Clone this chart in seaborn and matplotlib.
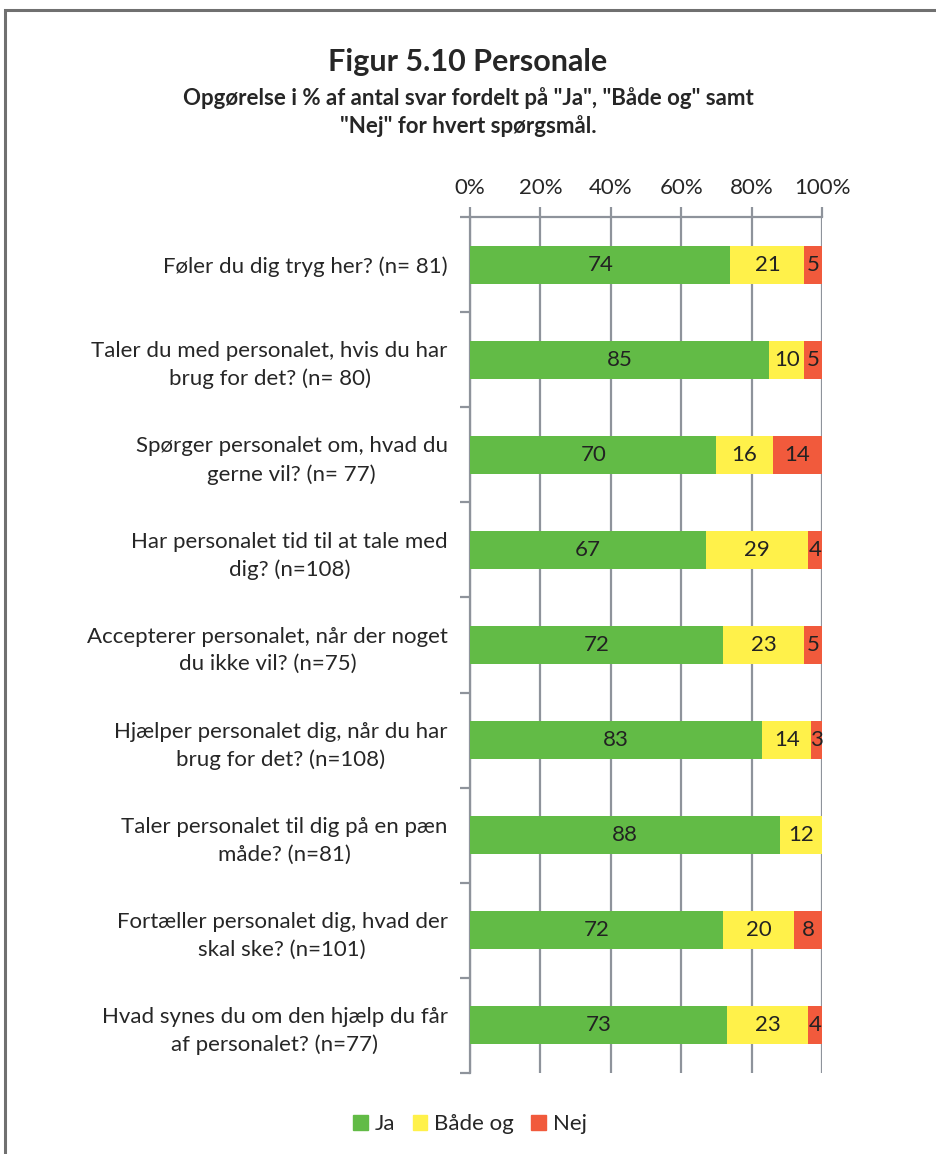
import matplotlib
matplotlib.use("Agg")
import matplotlib.pyplot as plt
import seaborn as sns
import pandas as pd
import numpy as np
from matplotlib.patches import Rectangle

questions = [
    "Føler du dig tryg her? (n= 81)",
    "Taler du med personalet, hvis du har\nbrug for det? (n= 80)",
    "Spørger personalet om, hvad du\ngerne vil? (n= 77)",
    "Har personalet tid til at tale med\ndig? (n=108)",
    "Accepterer personalet, når der noget\ndu ikke vil? (n=75)",
    "Hjælper personalet dig, når du har\nbrug for det? (n=108)",
    "Taler personalet til dig på en pæn\nmåde? (n=81)",
    "Fortæller personalet dig, hvad der\nskal ske? (n=101)",
    "Hvad synes du om den hjælp du får\naf personalet? (n=77)",
]
ja = [74, 85, 70, 67, 72, 83, 88, 72, 73]
baade = [21, 10, 16, 29, 23, 14, 12, 20, 23]
nej = [5, 5, 14, 4, 5, 3, 0, 8, 4]
series_names = ["Ja", "Både og", "Nej"]
colors = ["#62BB46", "#FFF14A", "#F15A3C"]
xticks = [0, 20, 40, 60, 80, 100]
xticklabels = ["0%", "20%", "40%", "60%", "80%", "100%"]

sns.set_style("white")
plt.rcParams["font.family"] = ["Lato", "DejaVu Sans"]

df = pd.DataFrame({"q": questions, "Ja": ja, "Både og": baade, "Nej": nej})
df["c1"] = df["Ja"]
df["c2"] = df["Ja"] + df["Både og"]
df["c3"] = df["c2"] + df["Nej"]

fig = plt.figure(figsize=(9.36, 11.54), dpi=100)
ax = fig.add_axes([470/936, 1-1073/1154, 352/936, (1073-217)/1154])

grid_c = "#8E939B"
for xv in xticks:
    ax.axvline(xv, color=grid_c, lw=1.6, zorder=0)

for col, c in zip(["c3", "c2", "c1"], colors[::-1]):
    sns.barplot(data=df, y="q", x=col, orient="h", color=c, width=0.4,
                saturation=1, ax=ax, zorder=2, edgecolor="none")

for i, row in df.iterrows():
    starts = [0, row["c1"], row["c2"]]
    for s, v in zip(starts, [row["Ja"], row["Både og"], row["Nej"]]):
        if v > 0:
            ax.text(s + v/2, i, f"{v}", ha="center", va="center",
                    fontsize=16, color="#222222", zorder=5)

ax.set_xlim(0, 100)
ax.set_ylim(len(questions) - 0.5, -0.5)
ax.set_xlabel("")
ax.set_ylabel("")
ax.xaxis.tick_top()
ax.set_xticks(xticks)
ax.set_xticklabels(xticklabels, fontsize=16)
ax.tick_params(axis="x", top=True, length=7, color=grid_c, width=1.6, pad=7)
ax.set_yticks(range(len(questions)))
ax.set_yticklabels(questions, fontsize=16, ha="right", multialignment="center",
                   linespacing=1.45)
ax.tick_params(axis="y", which="major", left=False, length=0, pad=16)
ax.set_yticks(np.arange(-0.5, len(questions), 1), minor=True)
ax.tick_params(axis="y", which="minor", left=True, length=7, color=grid_c, width=1.6)
for side in ["bottom", "right"]:
    ax.spines[side].set_visible(False)
for side in ["left", "top"]:
    ax.spines[side].set_color(grid_c)
    ax.spines[side].set_linewidth(1.6)
ax.spines["left"].set_zorder(1)

handles = [Rectangle((0, 0), 1, 1, color=c) for c in colors]
fig.legend(handles, series_names, loc="center", bbox_to_anchor=(470/936, 1-1124/1154),
           ncol=3, frameon=False, fontsize=16, handlelength=0.65, handleheight=0.65,
           handletextpad=0.3, columnspacing=0.8)

fig.text(468/936, 1-62/1154, "Figur 5.10 Personale", ha="center", va="center",
         fontsize=22, fontweight="bold")
fig.text(468/936, 1-112/1154, "Opgørelse i % af antal svar fordelt på \"Ja\", \"Både og\" samt\n\"Nej\" for hvert spørgsmål.",
         ha="center", va="center", fontsize=16, fontweight="bold", linespacing=1.3)

fig.patches.append(Rectangle((5/936, -0.1), 1.2, 1.1 - 10/1154, transform=fig.transFigure,
                             fill=False, edgecolor="#707070", lw=2.2, figure=fig))

fig.savefig("out.png", dpi=100, facecolor="white")
